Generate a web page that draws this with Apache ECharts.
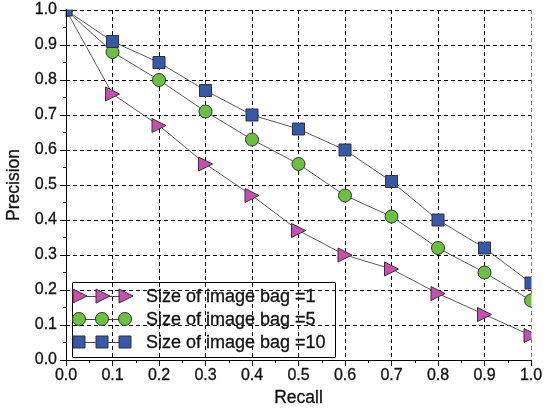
<!DOCTYPE html>
<html><head><meta charset="utf-8">
<script src="https://cdn.jsdelivr.net/npm/echarts@6/dist/echarts.min.js"></script>
<style>html,body{margin:0;padding:0;background:#fff}#c{width:545px;height:410px}</style>
</head><body><div id="c"></div>
<script>
var recall = [0.0, 0.1, 0.2, 0.3, 0.4, 0.5, 0.6, 0.7, 0.8, 0.9, 1.0];
var bag1 = [1.0, 0.76, 0.67, 0.56, 0.47, 0.37, 0.30, 0.26, 0.19, 0.13, 0.07];
var bag5 = [1.0, 0.88, 0.80, 0.71, 0.63, 0.56, 0.47, 0.41, 0.32, 0.25, 0.17];
var bag10 = [1.0, 0.91, 0.85, 0.77, 0.70, 0.66, 0.60, 0.51, 0.40, 0.32, 0.22];
var seriesNames = ['Size of image bag =1', 'Size of image bag =5', 'Size of image bag =10'];

var FONT = '"Liberation Sans", Arial, sans-serif';
var colors = ['#c84fb0', '#6cc040', '#3558a8'];
var symbols = ['triangle', 'circle', 'rect'];
var sizes = [14, 13, 12];
var rotates = [-90, 0, 0];
var datas = [bag1, bag5, bag10];

var G = { left: 66, right: 14, top: 10, bottom: 50, W: 545, H: 410 };

function pairs(ys) { return recall.map(function (x, i) { return [x, ys[i]]; }); }

var series = datas.map(function (d, k) {
  return {
    name: seriesNames[k], type: 'line', data: pairs(d),
    xAxisIndex: 0, yAxisIndex: 0,
    symbol: symbols[k], symbolSize: sizes[k], symbolRotate: rotates[k],
    clip: true, z: 3 + k,
    lineStyle: { color: '#5a5a5a', width: 1 },
    itemStyle: { color: colors[k], borderColor: '#333', borderWidth: 1 },
    emphasis: { disabled: true }, animation: false
  };
});

// custom legend (line with three markers per row)
var lg = { x: 72, y: 282, w: 263, h: 75 };
var rowY = [296, 319, 342];
var symX = [79, 102, 125];
var LZ = 100;
var legendChildren = [{
  type: 'rect', z: LZ, shape: { x: lg.x + 0.5, y: lg.y + 0.5, width: lg.w, height: lg.h },
  style: { fill: 'none', stroke: '#000', lineWidth: 1 }
}];
var shapeFor = function (k, cx, cy) {
  var s = sizes[k];
  var st = { fill: colors[k], stroke: '#333', lineWidth: 1 };
  if (k === 0) return { type: 'polygon', z: LZ, shape: { points: [[cx - 6, cy - 7], [cx + 8, cy], [cx - 6, cy + 7]] }, style: st };
  if (k === 1) return { type: 'circle', z: LZ, shape: { cx: cx, cy: cy, r: s / 2 }, style: st };
  return { type: 'rect', z: LZ, shape: { x: cx - s / 2, y: cy - s / 2, width: s, height: s }, style: st };
};
seriesNames.forEach(function (n, k) {
  var cy = rowY[k];
  legendChildren.push({ type: 'line', z: LZ, shape: { x1: symX[0], y1: cy + 0.5, x2: symX[2], y2: cy + 0.5 }, style: { stroke: '#444', lineWidth: 1 } });
  symX.forEach(function (cx) { legendChildren.push(shapeFor(k, cx, cy)); });
  legendChildren.push({ type: 'text', z: LZ, x: 146, y: cy + 1, style: { text: n, font: '18px ' + FONT, fill: '#111', stroke: '#111', lineWidth: 0.3, verticalAlign: 'middle' } });
});

// white masks that trim markers overflowing the plot frame (drawn above series, under axes)
var MZ = 10;
var masks = [
  { type: 'rect', z: MZ, silent: true, shape: { x: G.W - G.right + 0.5, y: 0, width: G.right, height: G.H - G.bottom }, style: { fill: '#fff' } },
  { type: 'rect', z: MZ, silent: true, shape: { x: 0, y: 0, width: G.W, height: G.top - 0.5 }, style: { fill: '#fff' } },
  { type: 'rect', z: MZ, silent: true, shape: { x: 0, y: 0, width: G.left - 0.5, height: G.H - G.bottom }, style: { fill: '#fff' } }
];

var labelStyle = { color: '#111', fontFamily: FONT, fontSize: 16, textBorderColor: '#111', textBorderWidth: 0.3 };
var nameStyle = { color: '#111', fontFamily: FONT, fontSize: 17.5, textBorderColor: '#111', textBorderWidth: 0.3 };
var fmt = function (v) { return v.toFixed(1); };

// grid-line axes (behind series)
var gridAxis = {
  type: 'value', min: 0, max: 1, interval: 0.1, z: 0,
  axisLine: { show: false }, axisTick: { show: false }, axisLabel: { show: false },
  splitLine: { show: true, lineStyle: { color: '#000', type: [4, 3], width: 1 } }
};
// visible axes (above series and masks)
var mainAxis = {
  type: 'value', min: 0, max: 1, interval: 0.1, z: 20,
  axisLine: { show: true, lineStyle: { color: '#000', width: 1 } },
  axisTick: { show: true, inside: false, length: 6, lineStyle: { color: '#000' } },
  minorTick: { show: true, splitNumber: 2, length: 3, lineStyle: { color: '#000' } },
  splitLine: { show: false },
  nameTextStyle: nameStyle
};
var frameAxis = {
  type: 'value', min: 0, max: 1, z: 20,
  axisLine: { show: true, lineStyle: { color: '#000', width: 1 } },
  axisTick: { show: false }, axisLabel: { show: false }, splitLine: { show: false }
};

var chart = echarts.init(document.getElementById('c'), null, { renderer: 'canvas' });
chart.setOption({
  backgroundColor: '#fff',
  animation: false,
  grid: { left: G.left, right: G.right, top: G.top, bottom: G.bottom, outerBoundsMode: 'none', containLabel: false, show: false },
  xAxis: [
    Object.assign({ position: 'bottom' }, gridAxis),
    Object.assign({ position: 'bottom' }, mainAxis, { name: 'Recall', nameLocation: 'middle', nameGap: 28,
      axisLabel: Object.assign({ margin: 8, formatter: fmt }, labelStyle) }),
    Object.assign({ position: 'top' }, frameAxis)
  ],
  yAxis: [
    Object.assign({ position: 'left' }, gridAxis),
    Object.assign({ position: 'left' }, mainAxis, { name: 'Precision', nameLocation: 'middle', nameGap: 39,
      axisLabel: Object.assign({ margin: 9, formatter: fmt }, labelStyle) }),
    Object.assign({ position: 'right' }, frameAxis)
  ],
  series: series,
  graphic: masks.concat(legendChildren)
});
</script></body></html>
